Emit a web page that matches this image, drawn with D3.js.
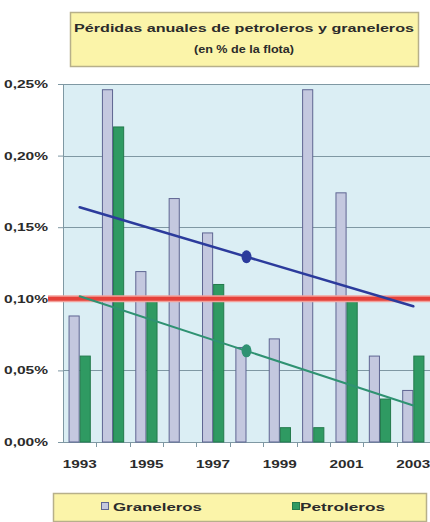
<!DOCTYPE html>
<html>
<head>
<meta charset="utf-8">
<script src="https://cdn.jsdelivr.net/npm/d3@7"></script>
<style>
  html, body { margin: 0; padding: 0; background: #ffffff; }
  svg { display: block; }
  text { font-family: "Liberation Sans", Arial, sans-serif; font-weight: bold; fill: #2b2b2b; }
</style>
</head>
<body>
<div id="chart"></div>
<script>
// Annual losses of tankers and bulk carriers, % of fleet
const years = ["1993","1994","1995","1996","1997","1998","1999","2000","2001","2002","2003"];
const graneleros = [0.088, 0.246, 0.119, 0.170, 0.146, 0.066, 0.072, 0.246, 0.174, 0.060, 0.036];
const petroleros = [0.060, 0.220, 0.100, 0.000, 0.110, 0.000, 0.010, 0.010, 0.100, 0.030, 0.060];
const seriesNames = ["Graneleros", "Petroleros"];
const yTickValues = [0, 0.05, 0.10, 0.15, 0.20, 0.25];
const xTickLabels = ["1993", "1995", "1997", "1999", "2001", "2003"];
const referenceLevel = 0.10;
const titleLines = ["Pérdidas anuales de petroleros y graneleros", "(en % de la flota)"];

const W = 430, H = 522;
const plot = { left: 63, right: 430, top: 84, bottom: 442 };

const colors = {
  plotBg: "#dbeef4",
  grid: "#7f98a3",
  granFill: "#c4c8df",
  granStroke: "#5f6592",
  petroFill: "#2f9a62",
  petroStroke: "#237a4c",
  blueTrend: "#2c3b9c",
  greenTrend: "#2f9272",
  red: "#e5413a",
  boxFill: "#fbf4a9",
  boxStroke: "#b7b08a"
};

const svg = d3.select("#chart").append("svg").attr("width", W).attr("height", H);

const x = d3.scaleBand().domain(years).range([plot.left, plot.right]).padding(0);
const xs = d3.scaleBand().domain(seriesNames).range([0, x.bandwidth()]).paddingInner(0).paddingOuter(0.5);
const y = d3.scaleLinear().domain([0, 0.25]).range([plot.bottom, plot.top]);

// plot background
svg.append("rect")
  .attr("x", plot.left).attr("y", plot.top)
  .attr("width", plot.right - plot.left).attr("height", plot.bottom - plot.top)
  .attr("fill", colors.plotBg);

// horizontal gridlines
svg.append("g").selectAll("line").data(yTickValues).join("line")
  .attr("x1", plot.left).attr("x2", plot.right)
  .attr("y1", d => Math.round(y(d)) + 0.5).attr("y2", d => Math.round(y(d)) + 0.5)
  .attr("stroke", colors.grid).attr("stroke-width", 1);

// left axis line
svg.append("line")
  .attr("x1", plot.left + 0.5).attr("x2", plot.left + 0.5)
  .attr("y1", plot.top).attr("y2", plot.bottom)
  .attr("stroke", colors.grid);

// y axis
const fmt = d3.formatLocale({ decimal: ",", thousands: ".", grouping: [3], currency: ["", "€"] }).format(".2f");
const yAxis = svg.append("g")
  .attr("transform", `translate(${plot.left},0)`)
  .call(d3.axisLeft(y).tickValues(yTickValues).tickSize(5).tickPadding(10).tickFormat(d => fmt(d) + "%"));
yAxis.select(".domain").remove();
yAxis.selectAll(".tick line").attr("stroke", colors.grid);
yAxis.selectAll(".tick text")
  .attr("font-size", 11).attr("fill", "#2b2b2b")
  .attr("font-family", "Liberation Sans, Arial, sans-serif").attr("font-weight", "bold")
  .attr("textLength", 44).attr("lengthAdjust", "spacingAndGlyphs");

// x axis: ticks at category boundaries, labels every other year
const xAxisG = svg.append("g").attr("transform", `translate(0,${plot.bottom})`);
xAxisG.append("line")
  .attr("x1", plot.left).attr("x2", plot.right).attr("y1", 0.5).attr("y2", 0.5)
  .attr("stroke", colors.grid);
xAxisG.selectAll("line.tick").data(years.slice(1)).join("line")
  .attr("class", "tick")
  .attr("x1", d => Math.round(x(d)) + 0.5).attr("x2", d => Math.round(x(d)) + 0.5)
  .attr("y1", 0).attr("y2", 5).attr("stroke", colors.grid);
xAxisG.selectAll("text").data(xTickLabels).join("text")
  .attr("x", d => x(d) + x.bandwidth() / 2)
  .attr("y", 26)
  .attr("text-anchor", "middle")
  .attr("font-size", 11)
  .attr("textLength", 34).attr("lengthAdjust", "spacingAndGlyphs")
  .text(d => d);

// bars
const rows = years.map((yr, i) => ({ year: yr, values: [
  { key: "Graneleros", v: graneleros[i] },
  { key: "Petroleros", v: petroleros[i] }
]}));
const groups = svg.append("g").selectAll("g").data(rows).join("g")
  .attr("transform", d => `translate(${x(d.year)},0)`);
groups.selectAll("rect").data(d => d.values.filter(e => e.v > 0)).join("rect")
  .attr("x", d => xs(d.key) + 0.5)
  .attr("y", d => y(d.v))
  .attr("width", xs.bandwidth() - 1)
  .attr("height", d => y(0) - y(d.v))
  .attr("fill", d => d.key === "Graneleros" ? colors.granFill : colors.petroFill)
  .attr("stroke", d => d.key === "Graneleros" ? colors.granStroke : colors.petroStroke)
  .attr("stroke-width", 1);

// 0,10% reference line, running over the axis label
const refX1 = 48;
svg.append("line")
  .attr("x1", refX1).attr("x2", plot.right)
  .attr("y1", y(referenceLevel)).attr("y2", y(referenceLevel))
  .attr("stroke", "#f2a29c").attr("stroke-width", 7);
svg.append("line")
  .attr("x1", refX1).attr("x2", plot.right)
  .attr("y1", y(referenceLevel)).attr("y2", y(referenceLevel))
  .attr("stroke", colors.red).attr("stroke-width", 4);

// least-squares trend lines, with a marker at the mean
function trend(values) {
  const idx = values.map((_, i) => i);
  const mx = d3.mean(idx), my = d3.mean(values);
  const sxy = d3.sum(idx, i => (i - mx) * (values[i] - my));
  const sxx = d3.sum(idx, i => (i - mx) * (i - mx));
  const b = sxy / sxx;
  return { mx, my, f: i => my + b * (i - mx) };
}
const cx = i => x(years[i]) + x.bandwidth() / 2;
[[graneleros, colors.blueTrend, 2.5], [petroleros, colors.greenTrend, 2]].forEach(([vals, col, w]) => {
  const t = trend(vals);
  const last = years.length - 1;
  svg.append("line")
    .attr("x1", cx(0)).attr("y1", y(t.f(0)))
    .attr("x2", cx(last)).attr("y2", y(t.f(last)))
    .attr("stroke", col).attr("stroke-width", w).attr("stroke-linecap", "round");
  svg.append("ellipse")
    .attr("cx", cx(t.mx)).attr("cy", y(t.my))
    .attr("rx", 5).attr("ry", 6.5)
    .attr("fill", col);
});

// title box
const title = svg.append("g");
title.append("rect")
  .attr("x", 70.5).attr("y", 12.5).attr("width", 348).attr("height", 54)
  .attr("fill", colors.boxFill).attr("stroke", colors.boxStroke).attr("stroke-width", 1.5);
title.append("text").attr("x", 244).attr("y", 32).attr("text-anchor", "middle")
  .attr("font-size", 11.5).attr("textLength", 340).attr("lengthAdjust", "spacingAndGlyphs")
  .text(titleLines[0]);
title.append("text").attr("x", 244).attr("y", 53).attr("text-anchor", "middle")
  .attr("font-size", 11.5).attr("textLength", 100).attr("lengthAdjust", "spacingAndGlyphs")
  .text(titleLines[1]);

// legend
const legend = svg.append("g");
legend.append("rect")
  .attr("x", 53.5).attr("y", 493.5).attr("width", 373).attr("height", 28)
  .attr("fill", colors.boxFill).attr("stroke", colors.boxStroke).attr("stroke-width", 1.5);
const legendItems = [
  { name: seriesNames[0], mx: 101, tx: 113, tw: 89, fill: colors.granFill, stroke: colors.granStroke },
  { name: seriesNames[1], mx: 292, tx: 300, tw: 85, fill: colors.petroFill, stroke: colors.petroStroke }
];
legendItems.forEach(it => {
  legend.append("rect").attr("x", it.mx + 0.5).attr("y", 502.5).attr("width", 7).attr("height", 7)
    .attr("fill", it.fill).attr("stroke", it.stroke);
  legend.append("text").attr("x", it.tx).attr("y", 510.5)
    .attr("font-size", 11.5).attr("textLength", it.tw).attr("lengthAdjust", "spacingAndGlyphs")
    .text(it.name);
});
</script>
</body>
</html>
